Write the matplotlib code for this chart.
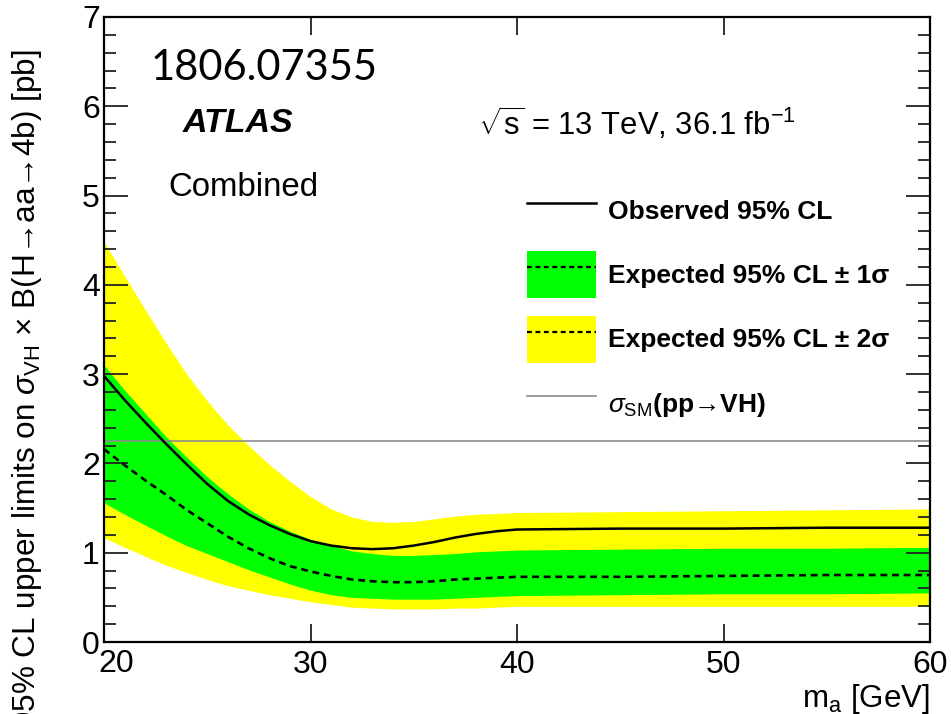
import matplotlib
matplotlib.use("Agg")
import matplotlib.pyplot as plt
from matplotlib.lines import Line2D
from matplotlib.patches import Patch
from matplotlib.ticker import MultipleLocator

plt.rcParams["font.family"] = ["Liberation Sans", "DejaVu Sans"]
plt.rcParams["mathtext.fontset"] = "custom"
plt.rcParams["mathtext.rm"] = "Liberation Sans"
plt.rcParams["mathtext.it"] = "Liberation Sans:italic"
plt.rcParams["mathtext.bf"] = "Liberation Sans:bold"

# m_a [GeV]
ma = [20, 21, 22, 23, 24, 25, 26, 27, 28, 29, 30, 31, 32, 33, 34, 35, 36, 37, 38, 39,
      40, 45, 50, 55, 60]
observed = [2.98, 2.71, 2.46, 2.22, 1.99, 1.77, 1.58, 1.43, 1.31, 1.21, 1.13, 1.08, 1.05,
            1.04, 1.05, 1.08, 1.12, 1.17, 1.21, 1.24, 1.26, 1.27, 1.27, 1.28, 1.28]
expected = [2.16, 1.98, 1.81, 1.65, 1.48, 1.33, 1.18, 1.05, 0.94, 0.85, 0.79, 0.74, 0.70,
            0.68, 0.67, 0.67, 0.68, 0.70, 0.71, 0.72, 0.73, 0.73, 0.74, 0.75, 0.75]
one_sig_up = [3.10, 2.82, 2.56, 2.30, 2.07, 1.85, 1.66, 1.49, 1.35, 1.24, 1.15, 1.08, 1.02,
              0.99, 0.97, 0.97, 0.98, 0.99, 1.01, 1.02, 1.03, 1.04, 1.05, 1.05, 1.06]
one_sig_dn = [1.56, 1.43, 1.31, 1.19, 1.08, 0.99, 0.90, 0.81, 0.73, 0.65, 0.58, 0.53, 0.50,
              0.49, 0.48, 0.48, 0.48, 0.49, 0.50, 0.51, 0.52, 0.53, 0.54, 0.54, 0.55]
two_sig_up = [4.48, 4.10, 3.72, 3.35, 3.00, 2.70, 2.43, 2.20, 1.99, 1.80, 1.63, 1.49, 1.40,
              1.35, 1.34, 1.35, 1.38, 1.41, 1.43, 1.44, 1.45, 1.46, 1.47, 1.48, 1.49]
two_sig_dn = [1.17, 1.06, 0.96, 0.86, 0.78, 0.70, 0.63, 0.58, 0.53, 0.49, 0.45, 0.42, 0.39,
              0.38, 0.37, 0.37, 0.37, 0.38, 0.38, 0.39, 0.40, 0.40, 0.40, 0.40, 0.40]
sm_xsec = 2.25
xticks = [20, 30, 40, 50, 60]

GREEN = "#00ff00"
YELLOW = "#ffff00"
W, H = 951, 714
TICKFS = 23

fig = plt.figure(figsize=(W / 100, H / 100), dpi=100)
ax = fig.add_axes([104 / W, 1 - 642 / H, (930 - 104) / W, (642 - 17) / H])

ax.fill_between(ma, two_sig_dn, two_sig_up, color=YELLOW, lw=0)
ax.fill_between(ma, one_sig_dn, one_sig_up, color=GREEN, lw=0)
ax.axhline(sm_xsec, color="#8c8c8c", lw=1.2)
ax.plot(ma, expected, color="k", lw=1.9, dashes=(2.6, 1.8))
ax.plot(ma, observed, color="k", lw=1.8)

ax.set_xlim(20, 60)
ax.set_ylim(0, 7)
# first x label is drawn separately, a little right of its tick (clear of the y "0")
ax.set_xticks(xticks, labels=[""] + [str(t) for t in xticks[1:]])
ax.annotate(str(xticks[0]), xy=(xticks[0], 0), xycoords="data", xytext=(8.5, -5),
            textcoords="offset points", ha="center", va="top", fontsize=TICKFS,
            annotation_clip=False)
ax.yaxis.set_major_locator(MultipleLocator(1))
ax.yaxis.set_minor_locator(MultipleLocator(0.2))
ax.tick_params(axis="both", which="both", direction="in", top=True, right=True,
               labelsize=TICKFS, width=1.3, color="#222222")
ax.tick_params(axis="y", which="major", length=17, pad=3)
ax.tick_params(axis="y", which="minor", length=8.5)
ax.tick_params(axis="x", which="major", length=13, pad=6)
for s in ax.spines.values():
    s.set_linewidth(1.6)

fig.text(27 / W, 1 - 49 / H,
         r"95% CL upper limits on $\sigma_{\rm VH}$ × B(H→aa→4b) [pb]",
         rotation=90, ha="center", va="top", fontsize=22.7)
fig.text(930 / W, 1 - 699 / H, r"m$_{\rm a}$ [GeV]", ha="right", va="center", fontsize=22.5)

fig.text(151 / W, 1 - 68 / H, "1806.07355", ha="left", va="center", fontsize=30,
         family=["Lato", "DejaVu Sans"])
fig.text(183 / W, 1 - 124 / H, "ATLAS", ha="left", va="center", fontsize=24.5,
         fontweight="bold", fontstyle="italic")
fig.text(168 / W, 1 - 188 / H, "Combined", ha="left", va="center", fontsize=23.8)
fig.text(478 / W, 1 - 124 / H, r"$\sqrt{\rm s}$ = 13 TeV, 36.1 fb$^{{-}1}$",
         ha="left", va="center", fontsize=22.3)

handles = [
    Line2D([], [], color="k", lw=1.8),
    (Patch(color=GREEN, lw=0), Line2D([], [], color="k", lw=1.6, dashes=(2.2, 1.6))),
    (Patch(color=YELLOW, lw=0), Line2D([], [], color="k", lw=1.6, dashes=(2.2, 1.6))),
    Line2D([], [], color="#8c8c8c", lw=1.2),
]
labels = [
    "Observed 95% CL",
    "Expected 95% CL ± 1σ",
    "Expected 95% CL ± 2σ",
    r"$\sigma_{\rm SM}$(pp→VH)",
]
leg = fig.legend(handles, labels, loc="upper left",
                 bbox_to_anchor=(527 / W, 1 - 187 / H), frameon=False,
                 prop={"weight": "bold", "size": 19}, handlelength=2.6,
                 handleheight=2.36, labelspacing=0.66, handletextpad=0.48,
                 borderpad=0, borderaxespad=0)

fig.savefig("out.png", dpi=100)
